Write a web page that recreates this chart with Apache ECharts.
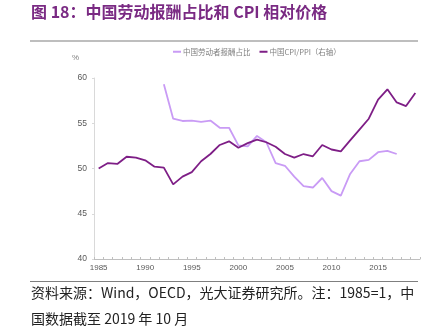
<!DOCTYPE html>
<html><head><meta charset="utf-8">
<script src="https://cdn.jsdelivr.net/npm/echarts@6/dist/echarts.min.js"></script>
<style>html,body{margin:0;padding:0;background:#fff}#c{width:431px;height:333px}</style>
</head><body><div id="c"></div>
<script>
var years = [];
for (var y = 1985; y <= 2019; y++) years.push(String(y));
var labourShare = [null,null,null,null,null,null,null,59.3,55.5,55.25,55.3,55.15,55.3,54.5,54.5,52.55,52.45,53.6,52.9,50.6,50.3,49.1,48.05,47.9,48.95,47.5,47.0,49.4,50.8,50.95,51.8,51.95,51.6,null,null];
var cpiPpi = [50.0,50.6,50.5,51.3,51.2,50.9,50.2,50.1,48.25,49.1,49.6,50.8,51.6,52.6,53.0,52.3,52.8,53.2,52.9,52.4,51.6,51.2,51.6,51.35,52.6,52.1,51.9,53.1,54.3,55.5,57.6,58.75,57.3,56.9,58.35];
var yTicks = [40,45,50,55,60];
var titleText = '图 18：中国劳动报酬占比和 CPI 相对价格';
var noteLine1 = '资料来源：Wind，OECD，光大证券研究所。注：1985=1，中';
var noteLine2 = '国数据截至 2019 年 10 月';
var seriesNames = ['中国劳动者报酬占比','中国CPI/PPI（右轴）'];

var chart = echarts.init(document.getElementById('c'), null, {renderer:'canvas'});
var cjk = '"Noto Sans CJK SC", "Liberation Sans", sans-serif';
var num = '"Liberation Sans", Arial, sans-serif';
chart.setOption({
  animation:false,
  textStyle:{fontFamily:cjk},
  graphic:[
    {type:'text', left:31, top:4, style:{text:titleText, font:'bold 16px ' + cjk, fill:'#7A2A83'}},
    {type:'line', shape:{x1:30,y1:41,x2:418,y2:41}, style:{stroke:'#7f7f7f', lineWidth:1.2}},
    {type:'line', shape:{x1:30,y1:281.5,x2:418,y2:281.5}, style:{stroke:'#7f7f7f', lineWidth:1.2}},
    {type:'text', left:72, top:54, style:{text:'%', font:'8px ' + num, fill:'#7f7f7f'}},
    {type:'text', left:31, top:286, style:{text:noteLine1, font:'14px ' + cjk, fill:'#222'}},
    {type:'text', left:31, top:312, style:{text:noteLine2, font:'14px ' + cjk, fill:'#222'}}
  ],
  legend:{
    top:43, left:168, itemGap:9, itemWidth:8, itemHeight:2,
    icon:'rect',
    textStyle:{fontSize:7.5, color:'#7f7f7f', padding:[0,0,0,-3]},
    data:seriesNames
  },
  grid:{left:94, right:11, top:78, bottom:74},
  xAxis:{
    type:'category', data:years, boundaryGap:true,
    axisLine:{lineStyle:{color:'#bfbfbf'}},
    axisTick:{show:true, interval:0, length:2, inside:true, lineStyle:{color:'#bfbfbf'}},
    axisLabel:{interval:4, fontSize:8, color:'#595959', margin:5, fontFamily:num}
  },
  yAxis:[
    {type:'value', min:40, max:60, interval:5,
     axisLine:{show:true, lineStyle:{color:'#d9d9d9'}},
     axisTick:{show:true, length:2, lineStyle:{color:'#d9d9d9'}},
     splitLine:{show:false},
     axisLabel:{fontSize:8.5, color:'#595959', margin:7, fontFamily:num}},
    {type:'value', min:40, max:60, interval:5, show:false, splitLine:{show:false}}
  ],
  series:[
    {name:seriesNames[0], type:'line', data:labourShare, yAxisIndex:0, symbol:'none', connectNulls:false,
     lineStyle:{color:'#C99BF5', width:1.8}, itemStyle:{color:'#C99BF5'}},
    {name:seriesNames[1], type:'line', data:cpiPpi, yAxisIndex:1, symbol:'none',
     lineStyle:{color:'#7E1E86', width:1.8}, itemStyle:{color:'#7E1E86'}}
  ]
});
</script></body></html>
